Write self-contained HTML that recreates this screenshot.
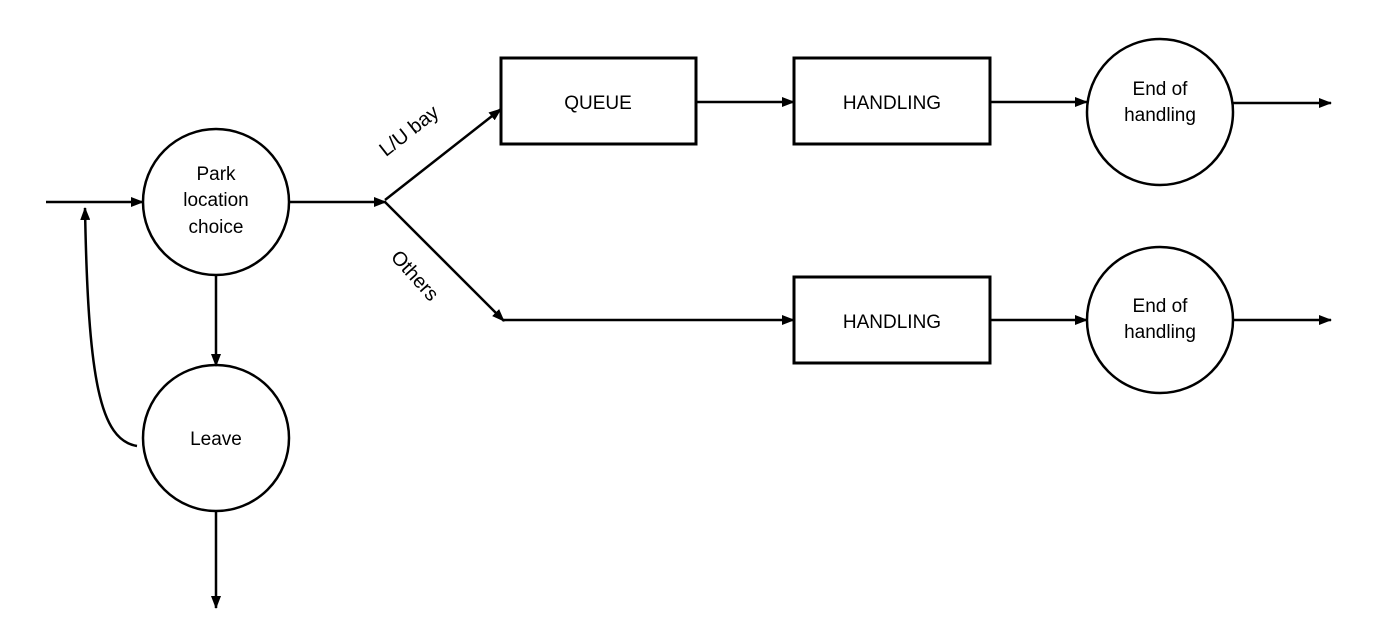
<!DOCTYPE html>
<html><head><style>body{margin:0;background:#fff}</style></head><body>
<svg width="1381" height="639" viewBox="0 0 1381 639" xmlns="http://www.w3.org/2000/svg" font-family="Liberation Sans, Arial, sans-serif" font-size="19">
<defs><marker id="a" markerWidth="13" markerHeight="10" refX="12" refY="5" orient="auto" markerUnits="userSpaceOnUse"><path d="M0,0 L13,5 L0,10 Z" fill="#000"/></marker></defs>
<g stroke="#000" stroke-width="2.5" fill="none">
<circle cx="216" cy="202" r="73"/>
<circle cx="216" cy="438" r="73"/>
<circle cx="1160" cy="112" r="73"/>
<circle cx="1160" cy="320" r="73"/>
<rect x="501" y="58" width="195" height="86" stroke-width="3"/>
<rect x="794" y="58" width="196" height="86" stroke-width="3"/>
<rect x="794" y="277" width="196" height="86" stroke-width="3"/>
<line x1="46" y1="202" x2="143" y2="202" marker-end="url(#a)"/>
<path d="M137,446 C100,440 88,380 85,208" marker-end="url(#a)"/>
<line x1="289" y1="202" x2="386" y2="202" marker-end="url(#a)"/>
<line x1="385" y1="200" x2="501" y2="109" marker-end="url(#a)"/>
<line x1="385" y1="202" x2="504" y2="321" marker-end="url(#a)"/>
<line x1="503" y1="320" x2="794" y2="320" marker-end="url(#a)"/>
<line x1="216" y1="275" x2="216" y2="366" marker-end="url(#a)"/>
<line x1="216" y1="511" x2="216" y2="608" marker-end="url(#a)"/>
<line x1="696" y1="102" x2="794" y2="102" marker-end="url(#a)"/>
<line x1="990" y1="102" x2="1087" y2="102" marker-end="url(#a)"/>
<line x1="990" y1="320" x2="1087" y2="320" marker-end="url(#a)"/>
<line x1="1233" y1="103" x2="1331" y2="103" marker-end="url(#a)"/>
<line x1="1233" y1="320" x2="1331" y2="320" marker-end="url(#a)"/>
</g>
<g text-anchor="middle" fill="#000">
<text x="216" y="180">Park</text><text x="216" y="206">location</text><text x="216" y="233">choice</text>
<text x="216" y="445">Leave</text>
<text x="598" y="109">QUEUE</text>
<text x="892" y="109">HANDLING</text>
<text x="892" y="328">HANDLING</text>
<text x="1160" y="95">End of</text><text x="1160" y="121">handling</text>
<text x="1160" y="312">End of</text><text x="1160" y="338">handling</text>
<text transform="translate(413,136) rotate(-38)" font-size="20">L/U bay</text>
<text transform="translate(410,280) rotate(48)" font-size="20">Others</text>
</g>
</svg>
</body></html>
